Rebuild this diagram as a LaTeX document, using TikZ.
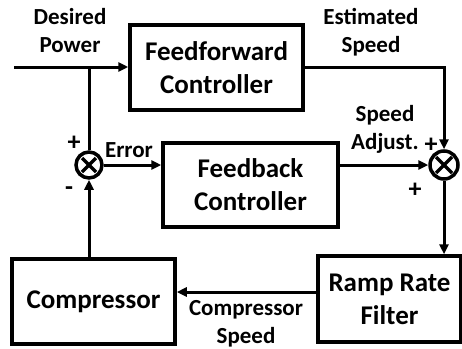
\documentclass[tikz,border=0pt]{standalone}
\usepackage{fontspec}
\setmainfont{Carlito}
\usetikzlibrary{arrows.meta,calc}
\begin{document}
\begin{tikzpicture}[x=1pt,y=-1pt,
  blk/.style={draw,line width=3.5pt,minimum width=#1,inner sep=0pt,align=center,font=\bfseries\fontsize{27}{33}\selectfont},
  sumj/.style={draw,circle,line width=3.5pt,minimum size=26pt,inner sep=0pt,path picture={
     \draw[line width=3.5pt] (path picture bounding box.south west)+(6,-6) -- ($(path picture bounding box.north east)+(-6,6)$);
     \draw[line width=3.5pt] (path picture bounding box.north west)+(6,6) -- ($(path picture bounding box.south east)+(-6,-6)$);}},
  lbl/.style={font=\bfseries\fontsize{23}{28}\selectfont,align=center,inner sep=0pt},
  sgn/.style={font=\bfseries\fontsize{26}{28}\selectfont,inner sep=0pt},
  wire/.style={line width=3pt},
  arr/.style={wire,-{Triangle[length=10pt,width=9pt]}}]
\useasboundingbox (0,0) rectangle (462,348);
\node[blk=173pt,minimum height=85pt] (ff) at (216.5,67.5) {Feedforward\\Controller};
\node[blk=175pt,minimum height=84pt] (fb) at (250.5,185) {Feedback\\Controller};
\node[blk=143pt,minimum height=86pt] (ramp) at (389.5,299) {Ramp Rate\\Filter};
\node[blk=163pt,minimum height=85pt] (comp) at (93.5,301.5) {Compressor};
\node[sumj] (s1) at (89,165) {};
\node[sumj,minimum size=28pt] (s2) at (444,165) {};
\coordinate (in) at (14,67);
\coordinate (br) at (89,67);
\coordinate (es) at (444,67);
% connectors
\draw[arr] (in) -- (ff.west |- in);
\draw[wire] (br) -- (s1.north);
\draw[arr] (s1.east) -- (fb.west |- s1);
\draw[arr] (fb.east |- s2) -- (s2.west);
\draw[arr] (ff.east |- es) -- (es) -- (s2.north);
\draw[arr] (s2.south) -- (s2 |- ramp.north);
\draw[arr] (ramp.west |- 0,292) -- (comp.east |- 0,292);
\draw[arr] (s1 |- comp.north) -- (s1.south);
% labels
\node[lbl] (ldp) at (70,31) {Desired\\Power};
\node[lbl] (les) at (371,32) {Estimated\\Speed};
\node[lbl] (lsa) at (385,129) {Speed\\Adjust.};
\node[lbl] (ler) at (129,150) {Error};
\node[lbl] (lcs) at (246,324) {Compressor\\Speed};
\node[sgn] (p1) at (74,143) {+};
\node[sgn] (m1) at (69,191) {-};
\node[sgn] (p2) at (431,145) {+};
\node[sgn] (p3) at (415,190) {+};
\end{tikzpicture}
\end{document}
